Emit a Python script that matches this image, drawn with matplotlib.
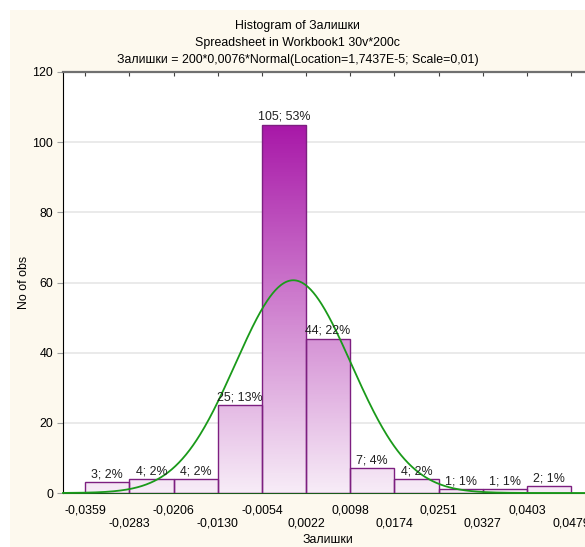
import numpy as np
import matplotlib
matplotlib.use("Agg")
import matplotlib.pyplot as plt
from matplotlib.colors import LinearSegmentedColormap
from matplotlib.patches import Rectangle

plt.rcParams["font.family"] = ["Liberation Sans", "DejaVu Sans"]

# histogram data (bin edges as printed, counts)
edges = [-0.0359, -0.0283, -0.0206, -0.0130, -0.0054, 0.0022,
         0.0098, 0.0174, 0.0251, 0.0327, 0.0403, 0.0479]
counts = [3, 4, 4, 25, 105, 44, 7, 4, 1, 1, 2]

# fitted normal curve parameters from the title
n_obs = 200
bin_w = 0.0076
loc = 1.7437e-5
scale = 0.01

title = ("Histogram of Залишки\n"
         "Spreadsheet in Workbook1 30v*200c\n"
         "Залишки = 200*0,0076*Normal(Location=1,7437E-5; Scale=0,01)")

W, H = 585, 547
fs = 8.9
fig = plt.figure(figsize=(W / 100, H / 100), dpi=100)
fig.patch.set_facecolor("white")
fig.patches.append(Rectangle((10 / W, 0), 1, 1 - 10 / H, transform=fig.transFigure,
                             facecolor="#fdf9ee", edgecolor="none", zorder=-10))

ax = fig.add_axes([63 / W, 1 - 493 / H, 530 / W, (493 - 72) / H])
ax.set_facecolor("white")

xmin = edges[0] - bin_w / 2
xmax = edges[-1] + bin_w / 2

cmap = LinearSegmentedColormap.from_list("grad", ["#f7ecf7", "#a818a8"])
top = max(counts)
for i, c in enumerate(counts):
    x0, x1 = edges[i], edges[i + 1]
    rect = Rectangle((x0, 0), x1 - x0, c, facecolor="none",
                     edgecolor="#7d1f80", lw=1.0, zorder=3)
    ax.add_patch(rect)
    grad = np.linspace(0, c, 200).reshape(-1, 1)
    im = ax.imshow(grad, extent=[x0, x1, 0, c], origin="lower", aspect="auto",
                   cmap=cmap, vmin=0, vmax=top, zorder=2)
    im.set_clip_path(rect)
    pct = int(np.floor(c / sum(counts) * 100 + 0.5))
    ax.text((x0 + x1) / 2, c + 0.5, f"{c}; {pct}%", ha="center", va="bottom",
            fontsize=fs, color="#202020", zorder=5)

xs = np.linspace(xmin, xmax, 600)
ys = n_obs * bin_w * np.exp(-0.5 * ((xs - loc) / scale) ** 2) / (scale * np.sqrt(2 * np.pi))
ax.plot(xs, ys, color="#1a9a1a", lw=1.3, zorder=4, clip_on=False)

ax.set_xlim(xmin, xmax)
ax.set_ylim(0, 120)
ax.set_yticks(range(0, 121, 20))
ax.yaxis.grid(True, color="#e6e6e6", lw=1.2, zorder=0)
ax.set_axisbelow(True)

labels = []
for i, e in enumerate(edges):
    s = f"{e:.4f}".replace(".", ",")
    labels.append(s if i % 2 == 0 else "\n" + s)
ax.set_xticks(edges)
ax.set_xticklabels(labels, fontsize=fs, linespacing=1.15)
ax.tick_params(axis="x", direction="in", length=3, top=True, bottom=False,
               labelbottom=True, color="#404040", pad=8)
ax.tick_params(axis="y", direction="out", length=4, color="#a0a0a0",
               labelsize=fs, pad=3)

ax.spines["right"].set_visible(False)
ax.spines["top"].set_color("#707070")
ax.spines["top"].set_linewidth(1.6)
ax.spines["left"].set_color("black")
ax.spines["bottom"].set_color("#1a5a1a")

ax.set_xlabel("Залишки", fontsize=fs)
ax.xaxis.set_label_coords(0.5, -(534 - 493) / (493 - 72))
ax.set_ylabel("No of obs", fontsize=fs)
ax.yaxis.set_label_coords(-(63 - 30) / 530, 0.5)

fig.text(297.5 / W, 1 - 20 / H, title, ha="center", va="top", fontsize=fs,
         linespacing=1.55)

fig.savefig("out.png", dpi=100)
